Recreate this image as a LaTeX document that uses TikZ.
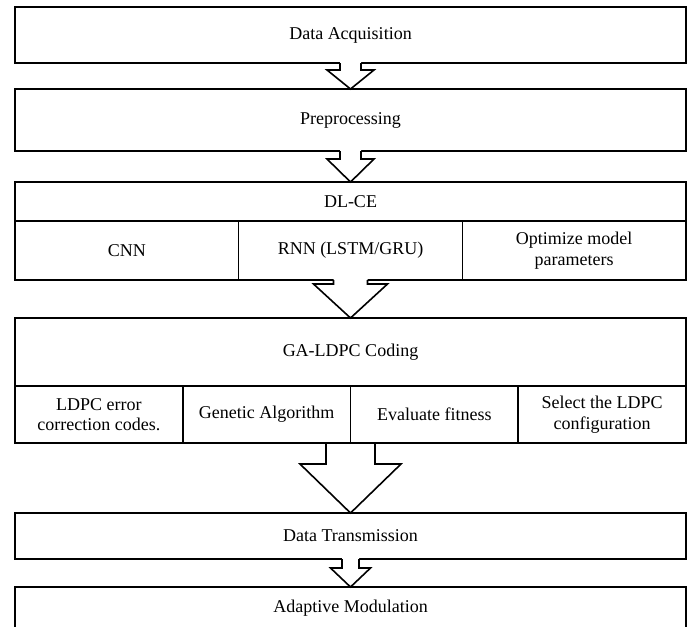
\documentclass[tikz,border=0pt]{standalone}
\usepackage{fontspec}
\setmainfont{Liberation Serif}
\usetikzlibrary{calc}
\tikzset{
  boxline/.style={line width=1.6pt, line join=miter},
  box/.style={draw, boxline, rectangle, outer sep=0pt, inner sep=2pt, align=center,
    font=\fontsize{18}{20.5}\selectfont},
  wide/.style={box, minimum width=671pt},
  third/.style={box, minimum width=223.67pt},
  quarter/.style={box, minimum width=167.75pt}
}
% #1 start anchor, #2 end anchor, #3 shaft half width, #4 head half width, #5 shaft length,
% #6 how far the white fill reaches up into the upper box (opens the arrow)
\newcommand{\blkarrow}[6]{%
  \fill[white] ($(#1)+(-#3pt,#6pt)$) -- ($(#1)+(-#3pt,-#5pt)$) -- ($(#1)+(-#4pt,-#5pt)$)
     -- (#1 |- #2) -- ($(#1)+(#4pt,-#5pt)$) -- ($(#1)+(#3pt,-#5pt)$) -- ($(#1)+(#3pt,#6pt)$) -- cycle;
  \draw[boxline] ($(#1)+(-#3pt,0pt)$) -- ($(#1)+(-#3pt,-#5pt)$) -- ($(#1)+(-#4pt,-#5pt)$)
     -- (#1 |- #2) -- ($(#1)+(#4pt,-#5pt)$) -- ($(#1)+(#3pt,-#5pt)$) -- ($(#1)+(#3pt,0pt)$);
}
\begin{document}
\begin{tikzpicture}[x=1pt,y=-1pt]
\useasboundingbox (0,0) rectangle (692,626);
\clip (0,0) rectangle (692,626);
\fill[white] (0,0) rectangle (692,626);

\node[wide, minimum height=56pt] (b1) at (350.5,35) {Data Acquisition};
\node[wide, minimum height=62pt] (b2) at (350.5,120) {Preprocessing};

\node[wide, minimum height=39pt] (dl) at (350.5,201.5) {DL-CE};
\node[third, minimum height=59pt] (dl1) at (126.83,250.5) {CNN};
\node[third, minimum height=59pt] (dl2) at (350.5,250.5) {RNN (LSTM/GRU)};
\node[third, minimum height=59pt] (dl3) at (574.17,250.5) {Optimize model\\parameters};

\node[wide, minimum height=68pt] (ga) at (350.5,352) {GA-LDPC Coding};
\node[quarter, minimum height=57pt] (ga1) at (98.875,414.5) {LDPC error\\correction codes.};
\node[quarter, minimum height=57pt] (ga2) at (266.625,414.5) {Genetic Algorithm};
\node[quarter, minimum height=57pt] (ga3) at (434.375,414.5) {Evaluate fitness};
\node[quarter, minimum height=57pt] (ga4) at (602.125,414.5) {Select the LDPC\\configuration};

\node[wide, minimum height=46pt] (dt) at (350.5,536) {Data Transmission};
\node[wide, minimum height=42pt] (am) at (350.5,608) {Adaptive Modulation};

\blkarrow{b1.south}{b2.north}{10.5}{23.5}{7}{1.2}
\blkarrow{b2.south}{dl.north}{10.5}{23.5}{8}{1.2}
\blkarrow{dl2.south}{ga.north}{17}{37}{4}{1.2}
\blkarrow{ga2.south east}{dt.north}{24.5}{50.5}{21}{-1}
\blkarrow{dt.south}{am.north}{8.5}{20}{9}{1.2}
\end{tikzpicture}
\end{document}
